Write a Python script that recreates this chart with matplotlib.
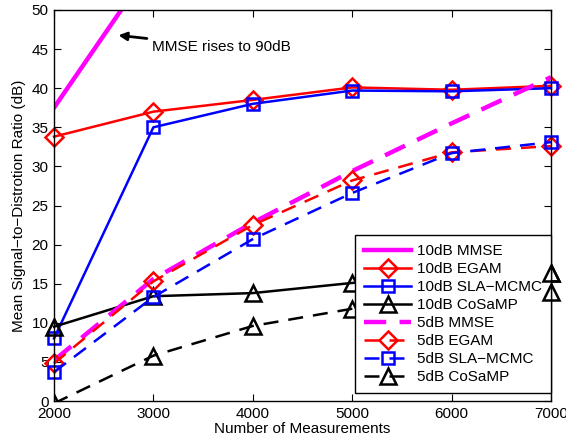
import matplotlib
matplotlib.use("Agg")
import matplotlib.pyplot as plt

plt.rcParams['font.family'] = ['Liberation Sans', 'DejaVu Sans']

# measurements
n_meas = [2000, 3000, 4000, 5000, 6000, 7000]

# 10dB curves
mmse_10 = [37.5, 56, 72, 82, 87, 90]
egam_10 = [33.8, 37.0, 38.5, 40.1, 39.8, 40.3]
sla_10 = [8.0, 35.0, 38.0, 39.7, 39.6, 40.0]
cosamp_10 = [9.5, 13.4, 13.8, 15.1, 15.8, 16.4]

# 5dB curves
mmse_5 = [5.2, 15.6, 22.8, 29.4, 35.5, 41.4]
egam_5 = [4.8, 15.3, 22.5, 28.2, 31.8, 32.6]
sla_5 = [3.7, 13.3, 20.7, 26.6, 31.7, 33.1]
cosamp_5 = [-0.3, 5.8, 9.6, 11.8, 13.0, 13.9]

fig = plt.figure(figsize=(5.66, 4.44), dpi=100)
ax = fig.add_axes([0.0954, 0.0968, 0.878, 0.8807])

mk = dict(markerfacecolor='none', markeredgewidth=1.8, clip_on=False)
tri = dict(color='black', marker='^', ms=11)

ax.plot(n_meas, mmse_10, color='magenta', lw=3.2, label='10dB MMSE')
ax.plot(n_meas, egam_10, color='red', lw=1.8, marker='D', ms=9, label='10dB EGAM', **mk)
ax.plot(n_meas, sla_10, color='blue', lw=1.8, marker='s', ms=8.5, label='10dB SLA\u2212MCMC', **mk)
ax.plot(n_meas, cosamp_10, lw=1.8, label='10dB CoSaMP', **tri, **mk)
ax.plot(n_meas, mmse_5, color='magenta', lw=3.2, ls=(0, (5, 3)), label='5dB MMSE')
ax.plot(n_meas, egam_5, color='red', lw=1.8, ls=(0, (6, 4)), marker='D', ms=9, label='5dB EGAM', **mk)
ax.plot(n_meas, sla_5, color='blue', lw=1.8, ls=(0, (6, 4)), marker='s', ms=8.5, label='5dB SLA\u2212MCMC', **mk)
c5, = ax.plot(n_meas, cosamp_5, lw=1.8, ls=(0, (6, 4)), label='5dB CoSaMP', **tri, **mk)

# curves that leave the axes get clipped
ax.lines[0].set_clip_on(True)
c5.set_clip_on(True)

# last CoSaMP markers sit on top of the legend box
ax.plot(n_meas[-1:], cosamp_10[-1:], ls='none', zorder=6, **tri, **mk)
ax.plot(n_meas[-1:], cosamp_5[-1:], ls='none', zorder=6, **tri, **mk)

ax.set_xlim(2000, 7000)
ax.set_ylim(0, 50)
ax.set_xticks(n_meas)
ax.set_yticks(range(0, 51, 5))
ax.tick_params(direction='in', top=True, right=True, labelsize=11, length=5, pad=4)
for s in ax.spines.values():
    s.set_linewidth(1.0)

ax.set_xlabel('Number of Measurements', fontsize=11, labelpad=1)
ax.set_ylabel('Mean Signal\u2212to\u2212Distrotion Ratio (dB)', fontsize=11, labelpad=4)

ax.annotate('MMSE rises to 90dB', xy=(2620, 46.8), xytext=(2990, 45.3),
            fontsize=11, va='center', ha='left',
            arrowprops=dict(arrowstyle='-|>', color='black', lw=2, mutation_scale=12))

leg = ax.legend(loc='lower right', bbox_to_anchor=(1.0, 0.02), fontsize=11, frameon=True,
                fancybox=False, edgecolor='black', framealpha=1, borderpad=0.6,
                labelspacing=0.26, handlelength=3.1, handletextpad=0.35, borderaxespad=0.0)
leg.get_frame().set_linewidth(1.0)

fig.savefig('out.png', dpi=100)
